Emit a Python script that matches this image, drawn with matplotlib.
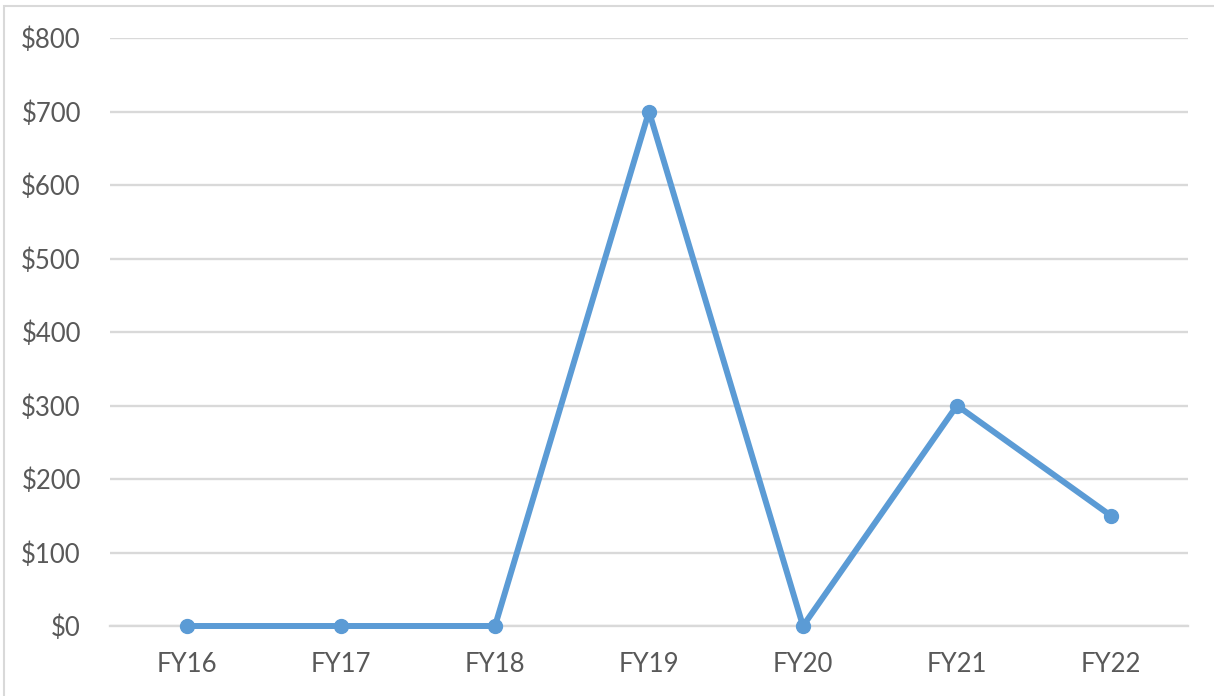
import matplotlib
matplotlib.use("Agg")
import matplotlib.pyplot as plt
from matplotlib.patches import Rectangle

categories = ["FY16", "FY17", "FY18", "FY19", "FY20", "FY21", "FY22"]
values = [0, 0, 0, 700, 0, 300, 150]
yticks = [0, 100, 200, 300, 400, 500, 600, 700, 800]
ytick_labels = ["$0", "$100", "$200", "$300", "$400", "$500", "$600", "$700", "$800"]

plt.rcParams['font.family'] = ['Lato', 'DejaVu Sans']
W, H = 1214, 696
fig = plt.figure(figsize=(W/100, H/100), dpi=100)
ax = fig.add_axes([110/W, 1-626/H, (1188-110)/W, (626-38)/H])

# figure border
fig.patches.append(Rectangle((4/W, -0.1), 1.2, 1.1 - 6/H, transform=fig.transFigure,
                             fill=False, edgecolor='#D9D9D9', linewidth=1.5))

x = list(range(len(categories)))
ax.plot(x, values, color='#5B9BD5', linewidth=4.3, marker='o', markersize=10,
        solid_capstyle='round', zorder=3, clip_on=False)

ax.set_xlim(-0.5, len(categories)-0.5)
ax.set_ylim(0, 800)
ax.set_yticks(yticks)
ax.set_yticklabels(ytick_labels)
ax.set_xticks(x)
ax.set_xticklabels(categories)
ax.grid(axis='y', color='#D9D9D9', linewidth=1.7)
ax.set_axisbelow(True)
for s in ['top', 'right', 'left']:
    ax.spines[s].set_visible(False)
ax.spines['bottom'].set_color('#D9D9D9')
ax.spines['bottom'].set_linewidth(1.7)
ax.tick_params(axis='both', length=0, labelsize=18.5, colors='#595959')
ax.tick_params(axis='y', pad=21)
ax.tick_params(axis='x', pad=19)

fig.savefig("out.png", dpi=100)
